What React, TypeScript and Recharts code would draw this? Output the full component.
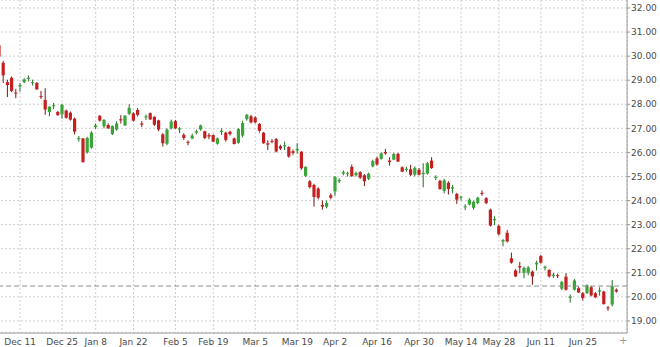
import React from "react";
import {
  ComposedChart,
  Bar,
  XAxis,
  YAxis,
  CartesianGrid,
  ReferenceLine,
} from "recharts";

// exchange holidays, no candle on these days
const holidays = [
  "2017-12-25",
  "2018-01-01",
  "2018-01-15",
  "2018-02-19",
  "2018-03-30",
  "2018-05-28",
  "2018-07-04",
];

function tradingDays(start: string, end: string) {
  const out: string[] = [];
  const d = new Date(start + "T00:00:00Z");
  const stop = new Date(end + "T00:00:00Z");
  while (d <= stop) {
    const iso = d.toISOString().slice(0, 10);
    const wd = d.getUTCDay();
    if (wd !== 0 && wd !== 6 && !holidays.includes(iso)) out.push(iso);
    d.setUTCDate(d.getUTCDate() + 1);
  }
  return out;
}

const dates = tradingDays("2017-12-04", "2018-07-06");

const opens = [
  30.45, 29.72, 28.92, 29.1, 28.48, 28.74, 28.92, 29.05, 28.88, 28.88,
  28.34, 28.18, 27.68, 27.92, 27.68, 27.58, 27.74, 27.65, 27.4, 26.55,
  26.58, 26.0, 26.2, 27.05, 27.52, 27.08, 27.14, 26.76, 26.95, 27.38,
  27.12, 27.6, 27.62, 27.76, 27.2, 27.45, 27.63, 27.48, 27.33, 26.75,
  26.36, 27.0, 27.3, 26.95, 26.73, 26.44, 26.58, 26.82, 26.95, 26.88,
  26.72, 26.72, 26.36, 26.85, 26.82, 26.86, 26.58, 26.4, 26.7, 27.38,
  27.5, 27.45, 27.18, 26.82, 26.38, 26.48, 26.55, 26.26, 26.25, 26.22,
  26.05, 26.08, 26.03, 25.03, 24.8, 24.65, 24.5, 23.82, 23.74, 24.22,
  24.38, 24.8, 25.12, 25.1, 25.4, 25.05, 25.18, 25.05, 24.9, 25.42,
  25.75, 25.73, 26.02, 25.66, 25.7, 25.94, 25.38, 25.27, 25.3, 25.08,
  25.28, 25.1, 25.12, 25.66, 24.95, 24.82, 24.4, 24.74, 24.5, 24.28,
  24.12, 23.72, 23.84, 23.7, 23.9, 24.32, 24.1, 23.62, 23.18, 22.94,
  22.3, 22.66, 21.6, 21.1, 21.28, 21.0, 21.0, 21.05, 21.35, 21.7,
  21.2, 21.12, 20.86, 20.9, 20.34, 20.84, 19.96, 20.3, 20.36, 20.15,
  20.16, 20.4, 20.15, 20.22, 20.22, 19.56, 19.68, 20.3,
];

const highs = [
  30.6, 29.8, 29.02, 29.15, 28.64, 28.88, 29.08, 29.2, 29.02, 28.92,
  28.55, 28.67, 27.92, 28.05, 27.72, 28.02, 27.78, 27.7, 27.45, 26.68,
  26.6, 26.65, 26.88, 27.2, 27.55, 27.38, 27.2, 27.12, 27.3, 27.55,
  27.55, 28.0, 27.66, 27.84, 27.3, 27.58, 27.66, 27.5, 27.36, 26.8,
  27.0, 27.36, 27.35, 27.05, 26.8, 26.5, 26.78, 26.95, 27.15, 26.9,
  26.8, 26.75, 26.62, 27.0, 26.86, 26.9, 26.62, 27.0, 27.32, 27.6,
  27.56, 27.5, 27.22, 26.85, 26.5, 26.55, 26.6, 26.32, 26.45, 26.26,
  26.12, 26.38, 26.05, 25.42, 24.85, 24.7, 24.55, 24.0, 24.0, 24.3,
  25.02, 24.92, 25.25, 25.2, 25.5, 25.2, 25.22, 25.1, 25.16, 25.7,
  25.82, 26.0, 26.14, 25.8, 25.98, 25.98, 25.42, 25.4, 25.48, 25.42,
  25.35, 25.55, 25.6, 25.8, 25.05, 24.86, 24.9, 24.8, 24.65, 24.32,
  24.2, 23.85, 24.1, 24.0, 24.16, 24.42, 24.14, 23.66, 23.35, 23.0,
  22.4, 22.78, 21.84, 21.15, 21.45, 21.26, 21.28, 21.1, 21.5, 21.74,
  21.3, 21.15, 21.0, 20.96, 20.66, 20.98, 20.1, 20.74, 20.42, 20.2,
  20.52, 20.45, 20.2, 20.4, 20.25, 19.62, 20.7, 20.35,
];

const lows = [
  29.9, 28.88, 28.3, 28.5, 28.25, 28.52, 28.88, 28.95, 28.78, 28.6,
  28.22, 27.56, 27.5, 27.8, 27.52, 27.4, 27.4, 27.32, 26.75, 26.45,
  25.58, 25.95, 26.15, 26.98, 27.28, 27.0, 26.98, 26.72, 26.9, 27.2,
  27.1, 27.55, 27.28, 27.5, 27.05, 27.35, 27.35, 27.1, 26.88, 26.24,
  26.3, 26.95, 26.98, 26.8, 26.52, 26.3, 26.55, 26.75, 26.9, 26.55,
  26.55, 26.42, 26.32, 26.72, 26.45, 26.7, 26.33, 26.36, 26.62, 27.32,
  27.2, 27.2, 26.82, 26.36, 26.1, 26.38, 26.0, 26.1, 26.1, 25.78,
  25.9, 25.95, 25.28, 24.98, 24.5, 23.75, 24.05, 23.62, 23.68, 24.05,
  24.2, 24.72, 25.05, 25.0, 24.98, 25.0, 24.9, 24.6, 24.85, 25.38,
  25.45, 25.7, 25.9, 25.45, 25.68, 25.6, 25.18, 25.2, 25.02, 25.0,
  25.04, 24.55, 25.08, 25.32, 24.85, 24.45, 24.3, 24.25, 24.3, 23.86,
  24.0, 23.6, 23.8, 23.62, 23.85, 24.2, 23.85, 22.92, 22.98, 22.55,
  22.1, 22.26, 21.38, 20.82, 20.98, 20.77, 20.9, 20.5, 21.1, 21.38,
  21.1, 20.8, 20.78, 20.78, 20.28, 20.26, 19.76, 20.26, 20.16, 19.85,
  20.12, 20.02, 19.96, 20.05, 19.68, 19.42, 19.6, 20.18,
];

const closes = [
  29.98, 29.2, 28.8, 28.55, 28.44, 28.8, 29.03, 29.1, 28.92, 28.62,
  28.3, 27.78, 27.9, 27.96, 27.55, 27.98, 27.44, 27.36, 26.86, 26.6,
  25.6, 26.6, 26.82, 27.12, 27.32, 27.35, 27.0, 27.1, 27.2, 27.33,
  27.52, 27.85, 27.32, 27.56, 27.15, 27.5, 27.37, 27.15, 26.95, 26.38,
  26.95, 27.28, 27.0, 27.0, 26.6, 26.4, 26.7, 26.88, 27.12, 26.6,
  26.66, 26.45, 26.58, 26.9, 26.52, 26.76, 26.35, 26.97, 27.22, 27.56,
  27.25, 27.25, 26.9, 26.38, 26.32, 26.44, 26.04, 26.16, 26.3, 25.83,
  25.98, 26.15, 25.34, 25.4, 24.56, 24.15, 24.12, 23.75, 23.9, 24.12,
  24.98, 24.86, 25.18, 25.14, 25.02, 25.15, 24.95, 24.8, 25.12, 25.64,
  25.5, 25.96, 25.96, 25.6, 25.93, 25.62, 25.2, 25.32, 25.07, 25.36,
  25.07, 25.15, 25.55, 25.35, 24.98, 24.48, 24.84, 24.48, 24.56, 24.04,
  24.16, 23.76, 24.04, 23.95, 24.12, 24.28, 23.9, 22.96, 23.24, 22.6,
  22.36, 22.3, 21.42, 20.85, 21.22, 21.2, 21.22, 20.85, 21.42, 21.42,
  21.25, 20.85, 20.92, 20.86, 20.62, 20.3, 20.02, 20.68, 20.18, 19.95,
  20.48, 20.06, 19.98, 20.27, 19.7, 19.52, 20.45, 20.22,
];

// where each date label sits (holiday labels fall on a neighbouring session)
const tickDates = [
  "2017-12-11", "2017-12-26", "2018-01-08", "2018-01-22", "2018-02-05",
  "2018-02-16", "2018-03-05", "2018-03-19", "2018-04-02", "2018-04-16",
  "2018-04-30", "2018-05-14", "2018-05-25", "2018-06-11", "2018-06-25",
];
const tickLabels = [
  "Dec 11", "Dec 25", "Jan 8", "Jan 22", "Feb 5", "Feb 19", "Mar 5",
  "Mar 19", "Apr 2", "Apr 16", "Apr 30", "May 14", "May 28", "Jun 11",
  "Jun 25",
];
const priceTicks = [19, 20, 21, 22, 23, 24, 25, 26, 27, 28, 29, 30, 31, 32];
const lastPrice = 20.45;

const data = dates.map((date, i) => ({
  date,
  open: opens[i],
  high: highs[i],
  low: lows[i],
  close: closes[i],
}));

const UP = "#3aa53a";
const UP_WICK = "#236b23";
const DOWN = "#c42020";
const DOWN_WICK = "#7d1414";
const axisFont = { fontSize: 9, fill: "#4a4a4a", fontFamily: "DejaVu Sans" };

function Candle(props: any) {
  const { x, y, width, height, payload } = props;
  if (!payload || x == null) return null;
  const { open, close, high, low } = payload;
  const top = Math.min(y, y + height);
  const span = Math.abs(height);
  const perUnit = high === low ? 0 : span / (high - low);
  const py = (v: number) => top + (high - v) * perUnit;
  const cx = x + width / 2;
  const up = close >= open;
  const bodyTop = py(Math.max(open, close));
  const bodyH = Math.max(1, py(Math.min(open, close)) - bodyTop);
  return (
    <g>
      <line
        x1={cx}
        x2={cx}
        y1={top}
        y2={top + span}
        stroke={up ? UP_WICK : DOWN_WICK}
        strokeWidth={1}
      />
      <rect
        x={cx - 1.6}
        y={bodyTop}
        width={3.2}
        height={bodyH}
        fill={up ? UP : DOWN}
      />
    </g>
  );
}

export default function App() {
  return (
    <div
      style={{
        position: "absolute",
        left: 0,
        top: 0,
        width: 660,
        height: 347,
        overflow: "hidden",
        background: "#fff",
      }}
    >
      <div style={{ position: "absolute", left: -3.1, top: 0 }}>
        <ComposedChart
          width={663.1}
          height={347}
          data={data}
          margin={{ top: 0, right: 0, bottom: 0, left: 0 }}
          barCategoryGap={0}
        >
          <CartesianGrid stroke="#cfcfcf" strokeDasharray="2 2" />
          <XAxis
            dataKey="date"
            type="category"
            ticks={tickDates}
            interval={0}
            tickFormatter={(v: string) => tickLabels[tickDates.indexOf(v)]}
            tick={axisFont}
            tickLine={false}
            tickSize={0}
            tickMargin={6}
            axisLine={{ stroke: "#9a9a9a" }}
            height={14}
            padding={{ left: 0, right: 8.5 }}
          />
          <YAxis
            orientation="right"
            type="number"
            domain={[18.5, 32.33]}
            ticks={priceTicks}
            interval={0}
            tickFormatter={(v: number) => v.toFixed(2)}
            tick={axisFont}
            tickSize={3}
            tickMargin={1}
            tickLine={{ stroke: "#9a9a9a" }}
            axisLine={{ stroke: "#9a9a9a" }}
            width={33}
          />
          <ReferenceLine
            y={lastPrice}
            stroke="#8a8a8a"
            strokeDasharray="5 3"
          />
          <Bar
            dataKey={(d: any) => [d.low, d.high]}
            shape={<Candle />}
            isAnimationActive={false}
          />
        </ComposedChart>
      </div>
      <span
        style={{
          position: "absolute",
          left: 619,
          top: 335,
          fontSize: 10,
          lineHeight: "12px",
          color: "#9a9a9a",
          fontFamily: "DejaVu Sans",
        }}
      >
        +
      </span>
    </div>
  );
}
